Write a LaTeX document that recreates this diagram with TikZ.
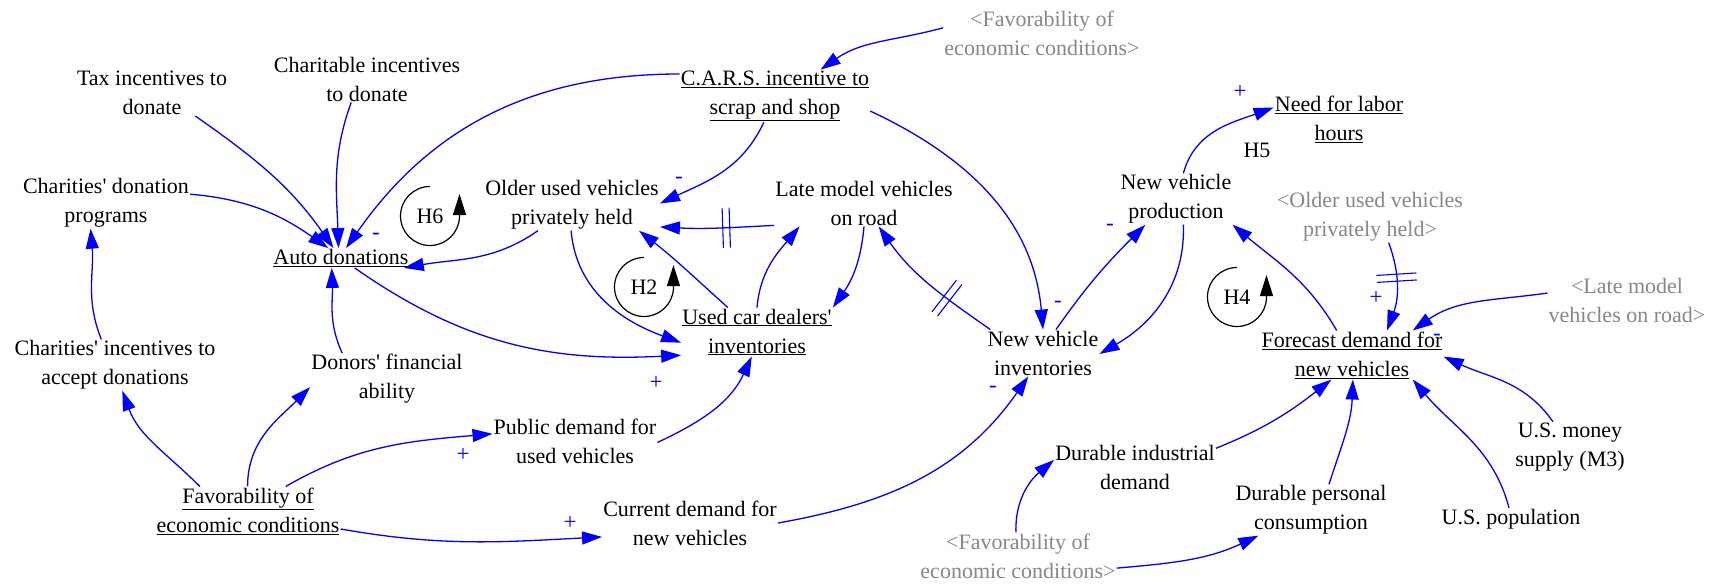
\documentclass[tikz,border=0pt]{standalone}
\usepackage{fontspec}
\setmainfont{Liberation Serif}[Ligatures=TeXOff]
\usetikzlibrary{arrows.meta,decorations.markings}
\definecolor{cblue}{HTML}{0000FF}
\definecolor{cgray}{HTML}{878787}
\definecolor{cink}{HTML}{000000}
\newcommand{\vfont}{\fontsize{22}{29}\selectfont}
\newcommand{\pfont}{\fontsize{23}{23}\selectfont}

\begin{document}
\begin{tikzpicture}[x=1pt, y=1pt,
    every node/.style={font=\vfont, align=center, inner sep=1pt},
    shadowvar/.style={text=cgray},
    link/.style={cblue, line width=1.3pt, -{Triangle[length=20pt,width=13pt]}},
    pol/.style={cblue, font=\pfont, inner sep=0pt},
    loopmark/.style={cink, line width=1.2pt, -{Triangle[length=21pt,width=13pt]}},
    delaymark/.style={postaction={decorate, decoration={markings, mark=at position #1 with {\draw[cblue, line width=1.1pt, -] (-3.5pt,-20pt) -- (-3.5pt,20pt) (3.5pt,-20pt) -- (3.5pt,20pt);}}}}]
  \useasboundingbox (0,0) rectangle (1722,-586);
  % variables
  \node (tax) at (152,-93) {Tax incentives to\\donate};
  \node (charit) at (367,-79) {Charitable incentives\\to donate};
  \node (progs) at (106,-203) {Charities' donation\\programs};
  \node (auto) at (341,-258) {\underline{Auto donations}};
  \node (cars) at (775,-96) {\underline{C.A.R.S. incentive to}\\\underline{scrap and shop}};
  \node[shadowvar] (favtop) at (1042,-33) {<Favorability of\\economic conditions>};
  \node (older) at (572,-205) {Older used vehicles\\privately held};
  \node (late) at (864,-203) {Late model vehicles\\on road};
  \node (used) at (757,-332) {\underline{Used car dealers'}\\\underline{inventories}};
  \node (need) at (1339,-119) {\underline{Need for labor}\\\underline{hours}};
  \node (h5) at (1257,-150) {H5};
  \node (prod) at (1176,-199) {New vehicle\\production};
  \node[shadowvar] (oldersh) at (1370,-217) {<Older used vehicles\\privately held>};
  \node[shadowvar] (latesh) at (1627,-300) {<Late model\\vehicles on road>};
  \node (fcast) at (1352,-355) {\underline{Forecast demand for}\\\underline{new vehicles}};
  \node (newinv) at (1043,-353) {New vehicle\\inventories};
  \node (charinc) at (115,-365) {Charities' incentives to\\accept donations};
  \node (donors) at (387,-379) {Donors' financial\\ability};
  \node (pubdem) at (575,-441) {Public demand for\\used vehicles};
  \node (fav) at (248,-511) {\underline{Favorability of}\\\underline{economic conditions}};
  \node (curdem) at (690,-523) {Current demand for\\new vehicles};
  \node (durind) at (1135,-467) {Durable industrial\\demand};
  \node (durpers) at (1311,-510) {Durable personal\\consumption};
  \node[shadowvar] (favbot) at (1018,-556) {<Favorability of\\economic conditions>};
  \node (money) at (1570,-447) {U.S. money\\supply (M3)};
  \node (pop) at (1511,-519) {U.S. population};
  % loops
  \foreach \nm/\x/\y in {H6/430/216, H2/644/287, H4/1237/297} {
    \node (\nm) at (\x,-\y) {\nm};
    \draw[loopmark] (\nm.center) ++(0,29.5) arc[start angle=90, end angle=358, radius=29.5] -- ++(0,23);
  }
  % links
  \draw[link] (tax.-28) to[out=-35,in=125] (auto.127);
  \draw[link] (charit.-124) to[out=-110,in=92] (auto.104);
  \draw[link] (progs.6) to[out=-5,in=145] (auto.142);
  \draw[link] (cars.167) to[out=180,in=55] (auto.63);
  \draw[link] (older.-143) to[out=-145,in=10] (auto.-9);
  \draw[link] (fav.153) to[out=135,in=-70] (charinc.-74);
  \draw[link] (charinc.118) to[out=112,in=-85] (progs.-121);
  \draw[link] (fav.91) to[out=90,in=-135] (donors.-174);
  \draw[link] (donors.150) to[out=115,in=-88] (auto.-133);
  \draw[link] (fav.33) to[out=30,in=185] (pubdem.175);
  \draw[link] (fav.-11) to[out=-10,in=183] (curdem.-171);
  \draw[link] (pubdem.-1) to[out=25,in=-115] (used.-102);
  \draw[link] (curdem.0) to[out=10,in=-125] (newinv.-122);
  \draw[link] (auto.-36) to[out=-35,in=183] (used.-163);
  \draw[link] (older.-92) to[out=-85,in=160] (used.-172);
  \draw[link] (used.140) to[out=138,in=-38] (older.-21);
  \draw[link] (used.90) to[out=85,in=-130] (late.-160);
  \draw[link, delaymark=0.42] (late.-166) to[out=-177,in=-3] (older.-14);
  \draw[link] (cars.-113) to[out=-115,in=25] (older.1);
  \draw[link] (late.-90) to[out=-95,in=55] (used.north east);
  \draw[link, delaymark=0.35] (newinv.156) to[out=145,in=-55] (late.-58);
  \draw[link] (cars.-9) to[out=-25,in=95] (newinv.north);
  \draw[link] (newinv.61) to[out=55,in=-135] (prod.-140);
  \draw[link] (prod.-74) to[out=-88,in=30] (newinv.-1);
  \draw[link] (prod.74) to[out=75,in=-160] (need.170);
  \draw[link] (fcast.122) to[out=120,in=-40] (prod.south east);
  \draw[link, delaymark=0.4] (oldersh.-54) to[out=-70,in=70] (fcast.35);
  \draw[link] (latesh.175) to[out=188,in=35] (fcast.22);
  \draw[link] (money.124) to[out=125,in=-25] (fcast.-1);
  \draw[link] (pop.100) to[out=105,in=-50] (fcast.-22);
  \draw[link] (durpers.55) to[out=72,in=-92] (fcast.-88);
  \draw[link] (durind.13) to[out=22,in=-142] (fcast.-130);
  \draw[link] (favbot.95) to[out=92,in=-140] (durind.175);
  \draw[link] (favbot.-7) to[out=5,in=-155] (durpers.-154);
  \draw[link] (favtop.177) to[out=195,in=35] (cars.30);
  % polarities
  \foreach \s/\x/\y [count=\i] in {-/376/236, -/679/180, +/656/383, +/463/455, +/570/523,
      -/993/389, -/1058/304, -/1110/227, +/1240/92, +/1376/298, -/1437/337}
    \node[pol] (sign\i) at (\x,-\y) {\s};
\end{tikzpicture}
\end{document}
